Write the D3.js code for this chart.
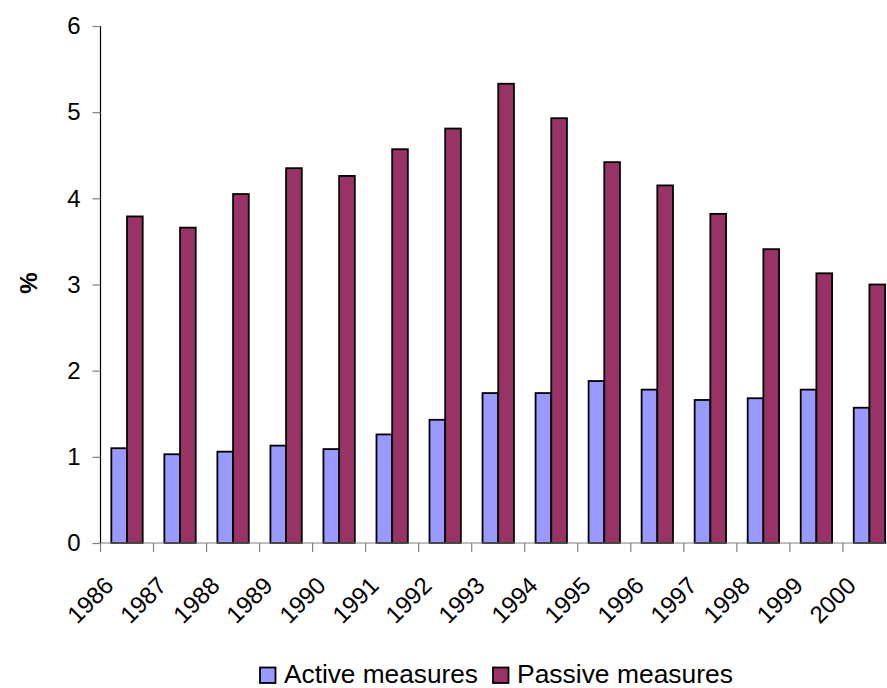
<!DOCTYPE html>
<html>
<head>
<meta charset="utf-8">
<script src="https://cdn.jsdelivr.net/npm/d3@7"></script>
<style>
  body { margin: 0; background: #fff; }
  svg { display: block; font-family: "Liberation Sans", Arial, sans-serif; }
</style>
</head>
<body>
<svg></svg>
<script>
var width = 887,
    height = 688;

// Chart data
var years = ["1986", "1987", "1988", "1989", "1990", "1991", "1992", "1993",
             "1994", "1995", "1996", "1997", "1998", "1999", "2000"];
var active  = [1.10, 1.03, 1.06, 1.13, 1.09, 1.26, 1.43, 1.74,
               1.74, 1.88, 1.78, 1.66, 1.68, 1.78, 1.57];
var passive = [3.79, 3.66, 4.05, 4.35, 4.26, 4.57, 4.81, 5.33,
               4.93, 4.42, 4.15, 3.82, 3.41, 3.13, 3.00];
var seriesNames = ["Active measures", "Passive measures"];
var seriesColors = ["#9999ff", "#993366"];
var yTicks = [0, 1, 2, 3, 4, 5, 6];

var svg = d3.select("svg")
    .attr("width", width)
    .attr("height", height);

var plotLeft = 100.5, plotTop = 26, plotBottom = 543;
var step = 53.03;

var x0 = d3.scaleBand()
    .domain(years)
    .range([plotLeft, plotLeft + step * years.length])
    .padding(0);

var x1 = d3.scaleBand()
    .domain(seriesNames)
    .range([0, x0.bandwidth()])
    .paddingInner(0)
    .paddingOuter(0.69);

var y = d3.scaleLinear()
    .domain([0, 6])
    .range([plotBottom, plotTop]);

var rows = years.map(function (yr, i) {
  return { year: yr, values: [active[i], passive[i]] };
});

// bars
var groups = svg.selectAll("g.year")
    .data(rows)
  .enter().append("g")
    .attr("class", "year")
    .attr("transform", function (d) { return "translate(" + x0(d.year) + ",0)"; });

groups.selectAll("rect")
    .data(function (d) { return d.values.map(function (v, j) { return { s: j, v: v }; }); })
  .enter().append("rect")
    .attr("x", function (d) { return x1(seriesNames[d.s]); })
    .attr("y", function (d) { return y(d.v); })
    .attr("width", x1.bandwidth())
    .attr("height", function (d) { return y(0) - y(d.v); })
    .attr("fill", function (d) { return seriesColors[d.s]; })
    .attr("stroke", "#000")
    .attr("stroke-width", 1.8);

// y axis
var yAxis = svg.append("g")
    .attr("transform", "translate(" + plotLeft + ",0)")
    .call(d3.axisLeft(y).tickValues(yTicks).tickFormat(d3.format("d")).tickSize(8).tickPadding(12));
yAxis.select(".domain").attr("stroke", "#000").attr("stroke-width", 1.2)
    .attr("d", "M0," + plotTop + "V" + plotBottom);
yAxis.selectAll(".tick line").attr("stroke", "#808080").attr("stroke-width", 1.2);
yAxis.selectAll(".tick text")
    .attr("font-size", 24)
    .attr("font-family", "Liberation Sans, Arial, sans-serif")
    .attr("fill", "#000");

// x axis
var xAxis = svg.append("g")
    .attr("transform", "translate(0," + plotBottom + ")");
xAxis.append("line")
    .attr("x1", plotLeft).attr("x2", x0.range()[1])
    .attr("stroke", "#808080").attr("stroke-width", 1.2);
xAxis.selectAll("line.tick")
    .data(years)
  .enter().append("line")
    .attr("class", "tick")
    .attr("x1", function (d) { return x0(d); })
    .attr("x2", function (d) { return x0(d); })
    .attr("y1", 0).attr("y2", 9)
    .attr("stroke", "#808080").attr("stroke-width", 1.2);

svg.selectAll("text.xlab")
    .data(years)
  .enter().append("text")
    .attr("class", "xlab")
    .attr("transform", function (d) {
      return "translate(" + (x0(d) + x0.bandwidth() / 2 - 12) + ",587) rotate(-45)";
    })
    .attr("text-anchor", "end")
    .attr("font-size", 24)
    .text(function (d) { return d; });

// y title
svg.append("text")
    .attr("transform", "translate(37,283) rotate(-90)")
    .attr("text-anchor", "middle")
    .attr("font-size", 24)
    .attr("font-weight", "bold")
    .text("%");

// legend
var legend = svg.append("g");
var legendX = [260, 493];
var legendLen = [194, 216];
seriesNames.forEach(function (name, i) {
  legend.append("rect")
      .attr("x", legendX[i]).attr("y", 667.5)
      .attr("width", 15.5).attr("height", 15.5)
      .attr("fill", seriesColors[i])
      .attr("stroke", "#000").attr("stroke-width", 1.8);
  legend.append("text")
      .attr("x", legendX[i] + 24).attr("y", 682.5)
      .attr("font-size", 25)
      .attr("textLength", legendLen[i])
      .attr("lengthAdjust", "spacingAndGlyphs")
      .text(name);
});
</script>
</body>
</html>
